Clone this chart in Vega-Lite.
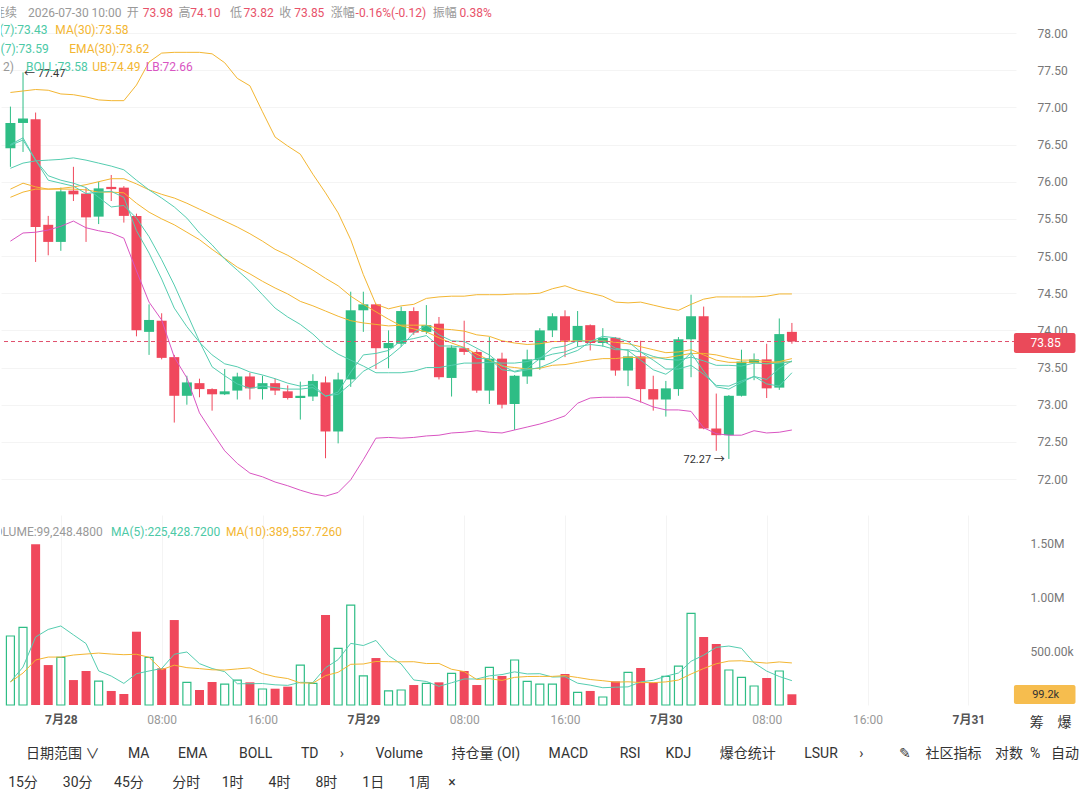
{
  "$schema": "https://vega.github.io/schema/vega-lite/v6.json",
  "padding": 0,
  "spacing": 0,
  "background": "white",
  "config": {
    "view": {"stroke": null},
    "font": "Roboto, 'Noto Sans CJK SC', sans-serif",
    "axis": {"domain": false, "ticks": false, "labelFont": "Roboto, 'Noto Sans CJK SC', sans-serif"}
  },
  "datasets": {
    "k": [
      {"t":"2026-07-27T20:00:00Z","o":76.45,"h":77.01,"l":76.20,"c":76.79,"v":639000,"ma7":76.49,"ema7":76.50,"ma30":75.90,"ema30":75.79,"boll":76.18,"ub":77.20,"lb":75.20,"vma5":213000,"vma10":213000},
      {"t":"2026-07-27T21:00:00Z","o":76.79,"h":77.47,"l":76.40,"c":76.85,"v":719000,"ma7":76.56,"ema7":76.59,"ma30":75.98,"ema30":75.86,"boll":76.25,"ub":77.22,"lb":75.31,"vma5":352000,"vma10":296000},
      {"t":"2026-07-27T22:00:00Z","o":76.84,"h":76.93,"l":74.92,"c":75.39,"v":1490000,"ma7":76.29,"ema7":76.29,"ma30":75.93,"ema30":75.90,"boll":76.28,"ub":77.24,"lb":75.32,"vma5":630000,"vma10":417000},
      {"t":"2026-07-27T23:00:00Z","o":75.42,"h":75.54,"l":75.01,"c":75.19,"v":370000,"ma7":76.08,"ema7":76.02,"ma30":75.90,"ema30":75.90,"boll":76.29,"ub":77.23,"lb":75.35,"vma5":700000,"vma10":444000},
      {"t":"2026-07-28T00:00:00Z","o":75.19,"h":75.92,"l":75.07,"c":75.87,"v":441000,"ma7":76.02,"ema7":75.98,"ma30":75.91,"ema30":75.90,"boll":76.30,"ub":77.18,"lb":75.40,"vma5":732000,"vma10":444000},
      {"t":"2026-07-28T01:00:00Z","o":75.88,"h":76.20,"l":75.74,"c":75.83,"v":231000,"ma7":75.98,"ema7":75.94,"ma30":75.93,"ema30":75.90,"boll":76.32,"ub":77.17,"lb":75.47,"vma5":650000,"vma10":463000},
      {"t":"2026-07-28T02:00:00Z","o":75.84,"h":75.92,"l":75.19,"c":75.52,"v":315000,"ma7":75.92,"ema7":75.84,"ma30":75.96,"ema30":75.89,"boll":76.29,"ub":77.14,"lb":75.38,"vma5":569000,"vma10":472000},
      {"t":"2026-07-28T03:00:00Z","o":75.53,"h":76.00,"l":75.43,"c":75.91,"v":222000,"ma7":75.79,"ema7":75.86,"ma30":76.00,"ema30":75.86,"boll":76.25,"ub":77.10,"lb":75.34,"vma5":316000,"vma10":481000},
      {"t":"2026-07-28T04:00:00Z","o":75.93,"h":76.09,"l":75.74,"c":75.90,"v":130000,"ma7":75.66,"ema7":75.87,"ma30":76.04,"ema30":75.86,"boll":76.21,"ub":77.09,"lb":75.31,"vma5":268000,"vma10":472000},
      {"t":"2026-07-28T05:00:00Z","o":75.92,"h":75.94,"l":75.45,"c":75.54,"v":102000,"ma7":75.68,"ema7":75.79,"ma30":76.04,"ema30":75.85,"boll":76.16,"ub":77.09,"lb":75.24,"vma5":200000,"vma10":466000},
      {"t":"2026-07-28T06:00:00Z","o":75.54,"h":75.57,"l":73.92,"c":74.00,"v":679000,"ma7":75.51,"ema7":75.34,"ma30":75.97,"ema30":75.71,"boll":76.02,"ub":77.30,"lb":74.80,"vma5":290000,"vma10":470000},
      {"t":"2026-07-28T07:00:00Z","o":73.98,"h":74.35,"l":73.67,"c":74.14,"v":441000,"ma7":75.26,"ema7":75.04,"ma30":75.89,"ema30":75.59,"boll":75.89,"ub":77.61,"lb":74.38,"vma5":315000,"vma10":442000},
      {"t":"2026-07-28T08:00:00Z","o":74.13,"h":74.23,"l":73.61,"c":73.63,"v":340000,"ma7":74.95,"ema7":74.69,"ma30":75.83,"ema30":75.50,"boll":75.78,"ub":77.73,"lb":74.14,"vma5":338000,"vma10":327000},
      {"t":"2026-07-28T09:00:00Z","o":73.64,"h":73.67,"l":72.76,"c":73.12,"v":787000,"ma7":74.61,"ema7":74.30,"ma30":75.78,"ema30":75.42,"boll":75.66,"ub":77.74,"lb":73.64,"vma5":470000,"vma10":369000},
      {"t":"2026-07-28T10:00:00Z","o":73.12,"h":73.39,"l":73.00,"c":73.30,"v":210000,"ma7":74.23,"ema7":74.05,"ma30":75.71,"ema30":75.32,"boll":75.51,"ub":77.74,"lb":73.36,"vma5":491000,"vma10":346000},
      {"t":"2026-07-28T11:00:00Z","o":73.29,"h":73.35,"l":73.10,"c":73.21,"v":139000,"ma7":73.85,"ema7":73.84,"ma30":75.63,"ema30":75.22,"boll":75.31,"ub":77.74,"lb":72.89,"vma5":383000,"vma10":337000},
      {"t":"2026-07-28T12:00:00Z","o":73.21,"h":73.22,"l":72.92,"c":73.14,"v":213000,"ma7":73.51,"ema7":73.67,"ma30":75.55,"ema30":75.09,"boll":75.15,"ub":77.72,"lb":72.63,"vma5":338000,"vma10":326000},
      {"t":"2026-07-28T13:00:00Z","o":73.14,"h":73.48,"l":73.13,"c":73.18,"v":194000,"ma7":73.39,"ema7":73.55,"ma30":75.47,"ema30":74.97,"boll":74.96,"ub":77.60,"lb":72.38,"vma5":309000,"vma10":324000},
      {"t":"2026-07-28T14:00:00Z","o":73.19,"h":73.43,"l":73.07,"c":73.38,"v":231000,"ma7":73.28,"ema7":73.51,"ma30":75.39,"ema30":74.85,"boll":74.81,"ub":77.39,"lb":72.21,"vma5":197000,"vma10":334000},
      {"t":"2026-07-28T15:00:00Z","o":73.38,"h":73.43,"l":73.07,"c":73.22,"v":210000,"ma7":73.22,"ema7":73.44,"ma30":75.30,"ema30":74.76,"boll":74.66,"ub":77.29,"lb":72.08,"vma5":197000,"vma10":344000},
      {"t":"2026-07-28T16:00:00Z","o":73.21,"h":73.39,"l":73.07,"c":73.29,"v":148000,"ma7":73.25,"ema7":73.40,"ma30":75.20,"ema30":74.66,"boll":74.48,"ub":76.94,"lb":72.03,"vma5":199000,"vma10":291000},
      {"t":"2026-07-28T17:00:00Z","o":73.29,"h":73.35,"l":73.13,"c":73.19,"v":151000,"ma7":73.23,"ema7":73.35,"ma30":75.09,"ema30":74.57,"boll":74.30,"ub":76.60,"lb":71.96,"vma5":187000,"vma10":262000},
      {"t":"2026-07-28T18:00:00Z","o":73.18,"h":73.26,"l":73.07,"c":73.09,"v":170000,"ma7":73.21,"ema7":73.29,"ma30":75.01,"ema30":74.49,"boll":74.18,"ub":76.48,"lb":71.91,"vma5":182000,"vma10":245000},
      {"t":"2026-07-28T19:00:00Z","o":73.09,"h":73.31,"l":72.80,"c":73.12,"v":370000,"ma7":73.21,"ema7":73.25,"ma30":74.91,"ema30":74.39,"boll":74.08,"ub":76.37,"lb":71.85,"vma5":210000,"vma10":204000},
      {"t":"2026-07-28T20:00:00Z","o":73.11,"h":73.41,"l":73.05,"c":73.32,"v":201000,"ma7":73.23,"ema7":73.27,"ma30":74.81,"ema30":74.33,"boll":73.95,"ub":76.10,"lb":71.80,"vma5":208000,"vma10":203000},
      {"t":"2026-07-28T21:00:00Z","o":73.30,"h":73.38,"l":72.28,"c":72.64,"v":833000,"ma7":73.12,"ema7":73.11,"ma30":74.70,"ema30":74.26,"boll":73.79,"ub":75.85,"lb":71.77,"vma5":345000,"vma10":272000},
      {"t":"2026-07-28T22:00:00Z","o":72.64,"h":73.43,"l":72.48,"c":73.34,"v":525000,"ma7":73.14,"ema7":73.17,"ma30":74.60,"ema30":74.19,"boll":73.68,"ub":75.58,"lb":71.82,"vma5":420000,"vma10":303000},
      {"t":"2026-07-28T23:00:00Z","o":73.34,"h":74.52,"l":73.24,"c":74.27,"v":926000,"ma7":73.28,"ema7":73.44,"ma30":74.46,"ema30":74.13,"boll":73.60,"ub":75.22,"lb":71.99,"vma5":571000,"vma10":377000},
      {"t":"2026-07-29T00:00:00Z","o":74.27,"h":74.52,"l":73.98,"c":74.35,"v":269000,"ma7":73.45,"ema7":73.67,"ma30":74.35,"ema30":74.10,"boll":73.52,"ub":74.75,"lb":72.26,"vma5":551000,"vma10":380000},
      {"t":"2026-07-29T01:00:00Z","o":74.35,"h":74.36,"l":73.48,"c":73.76,"v":435000,"ma7":73.54,"ema7":73.69,"ma30":74.25,"ema30":74.08,"boll":73.43,"ub":74.35,"lb":72.55,"vma5":598000,"vma10":403000},
      {"t":"2026-07-29T02:00:00Z","o":73.76,"h":74.00,"l":73.49,"c":73.83,"v":130000,"ma7":73.64,"ema7":73.73,"ma30":74.15,"ema30":74.06,"boll":73.43,"ub":74.29,"lb":72.56,"vma5":457000,"vma10":401000},
      {"t":"2026-07-29T03:00:00Z","o":73.82,"h":74.32,"l":73.78,"c":74.26,"v":139000,"ma7":73.78,"ema7":73.86,"ma30":74.06,"ema30":74.07,"boll":73.43,"ub":74.33,"lb":72.55,"vma5":380000,"vma10":400000},
      {"t":"2026-07-29T04:00:00Z","o":74.26,"h":74.31,"l":73.94,"c":73.97,"v":185000,"ma7":73.97,"ema7":73.89,"ma30":74.02,"ema30":74.07,"boll":73.45,"ub":74.35,"lb":72.56,"vma5":232000,"vma10":401000},
      {"t":"2026-07-29T05:00:00Z","o":73.98,"h":74.34,"l":73.95,"c":74.07,"v":201000,"ma7":74.07,"ema7":73.93,"ma30":73.98,"ema30":74.07,"boll":73.50,"ub":74.43,"lb":72.58,"vma5":218000,"vma10":384000},
      {"t":"2026-07-29T06:00:00Z","o":74.09,"h":74.18,"l":73.34,"c":73.37,"v":210000,"ma7":73.94,"ema7":73.79,"ma30":73.90,"ema30":74.02,"boll":73.50,"ub":74.45,"lb":72.59,"vma5":173000,"vma10":385000},
      {"t":"2026-07-29T07:00:00Z","o":73.36,"h":73.80,"l":73.11,"c":73.77,"v":293000,"ma7":73.86,"ema7":73.79,"ma30":73.83,"ema30":74.01,"boll":73.53,"ub":74.46,"lb":72.62,"vma5":206000,"vma10":331000},
      {"t":"2026-07-29T08:00:00Z","o":73.76,"h":74.13,"l":73.67,"c":73.71,"v":315000,"ma7":73.85,"ema7":73.77,"ma30":73.77,"ema30":73.99,"boll":73.56,"ub":74.46,"lb":72.63,"vma5":241000,"vma10":310000},
      {"t":"2026-07-29T09:00:00Z","o":73.71,"h":73.74,"l":73.16,"c":73.19,"v":185000,"ma7":73.76,"ema7":73.62,"ma30":73.68,"ema30":73.94,"boll":73.56,"ub":74.48,"lb":72.65,"vma5":241000,"vma10":236000},
      {"t":"2026-07-29T10:00:00Z","o":73.19,"h":73.91,"l":73.01,"c":73.62,"v":349000,"ma7":73.67,"ema7":73.62,"ma30":73.60,"ema30":73.92,"boll":73.57,"ub":74.48,"lb":72.63,"vma5":270000,"vma10":244000},
      {"t":"2026-07-29T11:00:00Z","o":73.62,"h":73.70,"l":72.95,"c":73.00,"v":269000,"ma7":73.53,"ema7":73.47,"ma30":73.52,"ema30":73.86,"boll":73.56,"ub":74.48,"lb":72.62,"vma5":282000,"vma10":228000},
      {"t":"2026-07-29T12:00:00Z","o":73.01,"h":73.40,"l":72.66,"c":73.39,"v":417000,"ma7":73.44,"ema7":73.45,"ma30":73.50,"ema30":73.83,"boll":73.56,"ub":74.49,"lb":72.66,"vma5":307000,"vma10":256000},
      {"t":"2026-07-29T13:00:00Z","o":73.38,"h":73.74,"l":73.28,"c":73.61,"v":219000,"ma7":73.47,"ema7":73.49,"ma30":73.48,"ema30":73.81,"boll":73.58,"ub":74.49,"lb":72.70,"vma5":288000,"vma10":264000},
      {"t":"2026-07-29T14:00:00Z","o":73.60,"h":74.03,"l":73.47,"c":74.00,"v":194000,"ma7":73.50,"ema7":73.62,"ma30":73.49,"ema30":73.82,"boll":73.63,"ub":74.50,"lb":72.74,"vma5":290000,"vma10":265000},
      {"t":"2026-07-29T15:00:00Z","o":74.00,"h":74.23,"l":73.91,"c":74.19,"v":194000,"ma7":73.57,"ema7":73.76,"ma30":73.53,"ema30":73.85,"boll":73.68,"ub":74.56,"lb":72.79,"vma5":259000,"vma10":265000},
      {"t":"2026-07-29T16:00:00Z","o":74.19,"h":74.27,"l":73.64,"c":73.86,"v":287000,"ma7":73.67,"ema7":73.79,"ma30":73.54,"ema30":73.85,"boll":73.71,"ub":74.60,"lb":72.85,"vma5":262000,"vma10":272000},
      {"t":"2026-07-29T17:00:00Z","o":73.86,"h":74.26,"l":73.78,"c":74.06,"v":117000,"ma7":73.73,"ema7":73.86,"ma30":73.57,"ema30":73.86,"boll":73.78,"ub":74.54,"lb":73.02,"vma5":202000,"vma10":255000},
      {"t":"2026-07-29T18:00:00Z","o":74.07,"h":74.08,"l":73.73,"c":73.83,"v":130000,"ma7":73.85,"ema7":73.85,"ma30":73.60,"ema30":73.86,"boll":73.81,"ub":74.50,"lb":73.09,"vma5":184000,"vma10":236000},
      {"t":"2026-07-29T19:00:00Z","o":73.83,"h":74.03,"l":73.78,"c":73.90,"v":74000,"ma7":73.92,"ema7":73.86,"ma30":73.62,"ema30":73.86,"boll":73.79,"ub":74.46,"lb":73.10,"vma5":160000,"vma10":225000},
      {"t":"2026-07-29T20:00:00Z","o":73.90,"h":73.91,"l":73.39,"c":73.46,"v":219000,"ma7":73.90,"ema7":73.76,"ma30":73.62,"ema30":73.84,"boll":73.74,"ub":74.38,"lb":73.10,"vma5":165000,"vma10":212000},
      {"t":"2026-07-29T21:00:00Z","o":73.46,"h":73.73,"l":73.25,"c":73.65,"v":302000,"ma7":73.85,"ema7":73.73,"ma30":73.64,"ema30":73.82,"boll":73.74,"ub":74.37,"lb":73.10,"vma5":168000,"vma10":215000},
      {"t":"2026-07-29T22:00:00Z","o":73.65,"h":73.86,"l":73.03,"c":73.21,"v":343000,"ma7":73.71,"ema7":73.60,"ma30":73.63,"ema30":73.78,"boll":73.71,"ub":74.38,"lb":73.04,"vma5":214000,"vma10":208000},
      {"t":"2026-07-29T23:00:00Z","o":73.21,"h":73.39,"l":72.92,"c":73.07,"v":207000,"ma7":73.60,"ema7":73.47,"ma30":73.63,"ema30":73.74,"boll":73.65,"ub":74.34,"lb":72.97,"vma5":229000,"vma10":207000},
      {"t":"2026-07-30T00:00:00Z","o":73.07,"h":73.32,"l":72.84,"c":73.22,"v":265000,"ma7":73.48,"ema7":73.41,"ma30":73.63,"ema30":73.70,"boll":73.61,"ub":74.30,"lb":72.93,"vma5":267000,"vma10":214000},
      {"t":"2026-07-30T01:00:00Z","o":73.21,"h":73.91,"l":73.12,"c":73.88,"v":361000,"ma7":73.48,"ema7":73.53,"ma30":73.66,"ema30":73.71,"boll":73.60,"ub":74.27,"lb":72.93,"vma5":296000,"vma10":231000},
      {"t":"2026-07-30T02:00:00Z","o":73.88,"h":74.48,"l":73.37,"c":74.19,"v":849000,"ma7":73.53,"ema7":73.70,"ma30":73.69,"ema30":73.74,"boll":73.64,"ub":74.35,"lb":72.91,"vma5":405000,"vma10":287000},
      {"t":"2026-07-30T03:00:00Z","o":74.19,"h":74.32,"l":72.67,"c":72.68,"v":630000,"ma7":73.41,"ema7":73.45,"ma30":73.69,"ema30":73.67,"boll":73.59,"ub":74.42,"lb":72.69,"vma5":462000,"vma10":338000},
      {"t":"2026-07-30T04:00:00Z","o":72.68,"h":73.15,"l":72.38,"c":72.59,"v":565000,"ma7":73.26,"ema7":73.24,"ma30":73.67,"ema30":73.60,"boll":73.53,"ub":74.45,"lb":72.61,"vma5":534000,"vma10":382000},
      {"t":"2026-07-30T05:00:00Z","o":72.59,"h":73.13,"l":72.27,"c":73.12,"v":324000,"ma7":73.25,"ema7":73.21,"ma30":73.63,"ema30":73.57,"boll":73.53,"ub":74.45,"lb":72.59,"vma5":546000,"vma10":407000},
      {"t":"2026-07-30T06:00:00Z","o":73.12,"h":73.74,"l":73.11,"c":73.58,"v":256000,"ma7":73.32,"ema7":73.30,"ma30":73.60,"ema30":73.57,"boll":73.52,"ub":74.45,"lb":72.59,"vma5":525000,"vma10":410000},
      {"t":"2026-07-30T07:00:00Z","o":73.56,"h":73.69,"l":73.33,"c":73.61,"v":176000,"ma7":73.38,"ema7":73.38,"ma30":73.60,"ema30":73.57,"boll":73.56,"ub":74.45,"lb":72.65,"vma5":390000,"vma10":398000},
      {"t":"2026-07-30T08:00:00Z","o":73.61,"h":73.82,"l":73.09,"c":73.22,"v":250000,"ma7":73.28,"ema7":73.34,"ma30":73.58,"ema30":73.55,"boll":73.55,"ub":74.46,"lb":72.62,"vma5":314000,"vma10":388000},
      {"t":"2026-07-30T09:00:00Z","o":73.23,"h":74.16,"l":73.20,"c":73.95,"v":315000,"ma7":73.25,"ema7":73.49,"ma30":73.57,"ema30":73.58,"boll":73.56,"ub":74.49,"lb":72.63,"vma5":264000,"vma10":399000},
      {"t":"2026-07-30T10:00:00Z","o":73.98,"h":74.10,"l":73.82,"c":73.85,"v":99248,"ma7":73.43,"ema7":73.59,"ma30":73.58,"ema30":73.62,"boll":73.58,"ub":74.49,"lb":72.66,"vma5":225429,"vma10":389558}
    ]
  },
  "vconcat": [
    {
      "width": 1015,
      "height": 515,
      "layer": [
        {
          "data": {"name": "k"},
          "encoding": {
            "x": {"field": "t", "type": "temporal", "axis": null,
              "scale": {"type": "utc", "domain": [{"year":2026,"month":7,"date":27,"hours":19,"minutes":39,"utc":true},{"year":2026,"month":7,"date":31,"hours":3,"minutes":23,"utc":true}]}}
          },
          "layer": [
            {
              "mark": {"type": "rule", "strokeWidth": 1},
              "encoding": {
                "y": {"field": "l", "type": "quantitative",
                  "scale": {"domain": [71.5165, 78.444], "zero": false, "nice": false},
                  "axis": {"orient": "right", "title": null, "values": [72,72.5,73,73.5,74,74.5,75,75.5,76,76.5,77,77.5,78], "format": ".2f", "labelColor": "#777", "labelFontSize": 12, "labelPadding": 21, "grid": true, "gridColor": "#f4f4f4"}},
                "y2": {"field": "h"},
                "color": {"condition": {"test": "datum.c >= datum.o", "value": "#2ebd85"}, "value": "#f0485c"}
              }
            },
            {
              "mark": {"type": "bar", "size": 10},
              "encoding": {
                "y": {"field": "o", "type": "quantitative"},
                "y2": {"field": "c"},
                "color": {"condition": {"test": "datum.c >= datum.o", "value": "#2ebd85"}, "value": "#f0485c"}
              }
            },
            {"mark": {"type": "line", "color": "#f3b632", "strokeWidth": 1}, "encoding": {"y": {"field": "ub", "type": "quantitative"}}},
            {"mark": {"type": "line", "color": "#d955c2", "strokeWidth": 1}, "encoding": {"y": {"field": "lb", "type": "quantitative"}}},
            {"mark": {"type": "line", "color": "#f3b632", "strokeWidth": 1}, "encoding": {"y": {"field": "ma30", "type": "quantitative"}}},
            {"mark": {"type": "line", "color": "#f3b632", "strokeWidth": 1}, "encoding": {"y": {"field": "ema30", "type": "quantitative"}}},
            {"mark": {"type": "line", "color": "#55cdb0", "strokeWidth": 1}, "encoding": {"y": {"field": "boll", "type": "quantitative"}}},
            {"mark": {"type": "line", "color": "#55cdb0", "strokeWidth": 1}, "encoding": {"y": {"field": "ema7", "type": "quantitative"}}},
            {"mark": {"type": "line", "color": "#55cdb0", "strokeWidth": 1}, "encoding": {"y": {"field": "ma7", "type": "quantitative"}}}
          ]
        },
        {"data": {"values": [{}]}, "mark": {"type": "rule", "color": "#e0506c", "strokeDash": [4, 3], "strokeWidth": 1}, "encoding": {"y": {"datum": 73.85}}},
        {"data": {"values": [{}]}, "mark": {"type": "rect", "color": "#ea4a5a", "cornerRadius": 2},
          "encoding": {"x": {"datum": {"year":2026,"month":7,"date":31,"hours":3,"minutes":37,"utc":true}}, "x2": {"datum": {"year":2026,"month":7,"date":31,"hours":8,"minutes":30,"utc":true}}, "y": {"datum": 73.965}, "y2": {"datum": 73.695}}},
        {"data": {"values": [{}]}, "mark": {"type": "text", "text": "73.85", "color": "white", "fontSize": 12, "align": "center", "baseline": "middle"},
          "encoding": {"x": {"datum": {"year":2026,"month":7,"date":31,"hours":6,"minutes":8,"utc":true}}, "y": {"datum": 73.83}}},
        {"data": {"values": [{}]}, "mark": {"type": "text", "text": "← 77.47", "color": "#333", "fontSize": 11, "align": "left", "baseline": "middle", "dx": 1},
          "encoding": {"x": {"datum": {"year":2026,"month":7,"date":27,"hours":21,"utc":true}}, "y": {"datum": 77.45}}},
        {"data": {"values": [{}]}, "mark": {"type": "text", "text": "72.27 →", "color": "#333", "fontSize": 11, "align": "right", "baseline": "middle", "dx": -4},
          "encoding": {"x": {"datum": {"year":2026,"month":7,"date":30,"hours":5,"utc":true}}, "y": {"datum": 72.255}}},
        {"data": {"values": [{}]}, "mark": {"type": "text", "text": "连续", "color": "#999", "fontSize": 12, "align": "right", "baseline": "middle", "clip": true},
          "encoding": {"x": {"datum": {"year":2026,"month":7,"date":27,"hours":20,"minutes":31,"utc":true}}, "y": {"datum": 78.273}}},
        {"data": {"values": [{}]}, "mark": {"type": "text", "text": "2026-07-30 10:00", "color": "#999", "fontSize": 12, "align": "left", "baseline": "middle"},
          "encoding": {"x": {"datum": {"year":2026,"month":7,"date":27,"hours":21,"minutes":24,"utc":true}}, "y": {"datum": 78.273}}},
        {"data": {"values": [{}]}, "mark": {"type": "text", "text": "开", "color": "#999", "fontSize": 12, "align": "left", "baseline": "middle"},
          "encoding": {"x": {"datum": {"year":2026,"month":7,"date":28,"hours":5,"minutes":14,"utc":true}}, "y": {"datum": 78.273}}},
        {"data": {"values": [{}]}, "mark": {"type": "text", "text": "73.98", "color": "#e8526a", "fontSize": 12, "align": "left", "baseline": "middle"},
          "encoding": {"x": {"datum": {"year":2026,"month":7,"date":28,"hours":6,"minutes":30,"utc":true}}, "y": {"datum": 78.273}}},
        {"data": {"values": [{}]}, "mark": {"type": "text", "text": "高", "color": "#999", "fontSize": 12, "align": "left", "baseline": "middle"},
          "encoding": {"x": {"datum": {"year":2026,"month":7,"date":28,"hours":9,"minutes":20,"utc":true}}, "y": {"datum": 78.273}}},
        {"data": {"values": [{}]}, "mark": {"type": "text", "text": "74.10", "color": "#e8526a", "fontSize": 12, "align": "left", "baseline": "middle"},
          "encoding": {"x": {"datum": {"year":2026,"month":7,"date":28,"hours":10,"minutes":16,"utc":true}}, "y": {"datum": 78.273}}},
        {"data": {"values": [{}]}, "mark": {"type": "text", "text": "低", "color": "#999", "fontSize": 12, "align": "left", "baseline": "middle"},
          "encoding": {"x": {"datum": {"year":2026,"month":7,"date":28,"hours":13,"minutes":25,"utc":true}}, "y": {"datum": 78.273}}},
        {"data": {"values": [{}]}, "mark": {"type": "text", "text": "73.82", "color": "#e8526a", "fontSize": 12, "align": "left", "baseline": "middle"},
          "encoding": {"x": {"datum": {"year":2026,"month":7,"date":28,"hours":14,"minutes":30,"utc":true}}, "y": {"datum": 78.273}}},
        {"data": {"values": [{}]}, "mark": {"type": "text", "text": "收", "color": "#999", "fontSize": 12, "align": "left", "baseline": "middle"},
          "encoding": {"x": {"datum": {"year":2026,"month":7,"date":28,"hours":17,"minutes":20,"utc":true}}, "y": {"datum": 78.273}}},
        {"data": {"values": [{}]}, "mark": {"type": "text", "text": "73.85", "color": "#e8526a", "fontSize": 12, "align": "left", "baseline": "middle"},
          "encoding": {"x": {"datum": {"year":2026,"month":7,"date":28,"hours":18,"minutes":31,"utc":true}}, "y": {"datum": 78.273}}},
        {"data": {"values": [{}]}, "mark": {"type": "text", "text": "涨幅", "color": "#999", "fontSize": 12, "align": "left", "baseline": "middle"},
          "encoding": {"x": {"datum": {"year":2026,"month":7,"date":28,"hours":21,"minutes":25,"utc":true}}, "y": {"datum": 78.273}}},
        {"data": {"values": [{}]}, "mark": {"type": "text", "text": "-0.16%(-0.12)", "color": "#e8526a", "fontSize": 12, "align": "left", "baseline": "middle"},
          "encoding": {"x": {"datum": {"year":2026,"month":7,"date":28,"hours":23,"minutes":23,"utc":true}}, "y": {"datum": 78.273}}},
        {"data": {"values": [{}]}, "mark": {"type": "text", "text": "振幅", "color": "#999", "fontSize": 12, "align": "left", "baseline": "middle"},
          "encoding": {"x": {"datum": {"year":2026,"month":7,"date":29,"hours":5,"minutes":31,"utc":true}}, "y": {"datum": 78.273}}},
        {"data": {"values": [{}]}, "mark": {"type": "text", "text": "0.38%", "color": "#e8526a", "fontSize": 12, "align": "left", "baseline": "middle"},
          "encoding": {"x": {"datum": {"year":2026,"month":7,"date":29,"hours":7,"minutes":38,"utc":true}}, "y": {"datum": 78.273}}},
        {"data": {"values": [{}]}, "mark": {"type": "text", "text": "MA(7):73.43", "color": "#4cc9a6", "fontSize": 12, "align": "right", "baseline": "middle", "clip": true},
          "encoding": {"x": {"datum": {"year":2026,"month":7,"date":27,"hours":22,"minutes":56,"utc":true}}, "y": {"datum": 78.04}}},
        {"data": {"values": [{}]}, "mark": {"type": "text", "text": "MA(30):73.58", "color": "#f3b632", "fontSize": 12, "align": "left", "baseline": "middle"},
          "encoding": {"x": {"datum": {"year":2026,"month":7,"date":27,"hours":23,"minutes":34,"utc":true}}, "y": {"datum": 78.04}}},
        {"data": {"values": [{}]}, "mark": {"type": "text", "text": "EMA(7):73.59", "color": "#4cc9a6", "fontSize": 12, "align": "right", "baseline": "middle", "clip": true},
          "encoding": {"x": {"datum": {"year":2026,"month":7,"date":27,"hours":23,"minutes":2,"utc":true}}, "y": {"datum": 77.785}}},
        {"data": {"values": [{}]}, "mark": {"type": "text", "text": "EMA(30):73.62", "color": "#f3b632", "fontSize": 12, "align": "left", "baseline": "middle"},
          "encoding": {"x": {"datum": {"year":2026,"month":7,"date":28,"hours":0,"minutes":40,"utc":true}}, "y": {"datum": 77.785}}},
        {"data": {"values": [{}]}, "mark": {"type": "text", "text": "BOLL(20, 2)", "color": "#999", "fontSize": 12, "align": "right", "baseline": "middle", "clip": true},
          "encoding": {"x": {"datum": {"year":2026,"month":7,"date":27,"hours":20,"minutes":17,"utc":true}}, "y": {"datum": 77.543}}},
        {"data": {"values": [{}]}, "mark": {"type": "text", "text": "BOLL:73.58", "color": "#4cc9a6", "fontSize": 12, "align": "left", "baseline": "middle"},
          "encoding": {"x": {"datum": {"year":2026,"month":7,"date":27,"hours":21,"minutes":14,"utc":true}}, "y": {"datum": 77.543}}},
        {"data": {"values": [{}]}, "mark": {"type": "text", "text": "UB:74.49", "color": "#f3b632", "fontSize": 12, "align": "left", "baseline": "middle"},
          "encoding": {"x": {"datum": {"year":2026,"month":7,"date":28,"hours":2,"minutes":29,"utc":true}}, "y": {"datum": 77.543}}},
        {"data": {"values": [{}]}, "mark": {"type": "text", "text": "LB:72.66", "color": "#d955c2", "fontSize": 12, "align": "left", "baseline": "middle"},
          "encoding": {"x": {"datum": {"year":2026,"month":7,"date":28,"hours":6,"minutes":44,"utc":true}}, "y": {"datum": 77.543}}}
      ]
    },
    {
      "width": 1015,
      "height": 190,
      "title": {
        "text": [
          "\u200b\u2003\u2002\u2005日期范围 ∨\u2003\u2003MA\u2003\u2003EMA\u2003\u2003\u2009BOLL\u2003\u2003TD\u2003\u2002›\u2003\u2003\u2009Volume\u2003\u2003持仓量 (OI)\u2003\u2003MACD\u2003\u2003\u2009RSI\u2003\u2002\u2005KDJ\u2003\u2003爆仓统计\u2003\u2003LSUR\u2003\u2002›\u2003\u2003\u2002✎\u2003社区指标\u2002\u2005\u2009对数\u2002%\u2002\u2005自动",
          "\u200b\u200215分\u2003\u2002\u200530分\u2003\u200245分\u2003\u2003分时\u2003\u20021时\u2003\u2002\u20054时\u2003\u2002\u20058时\u2003\u2002\u20051日\u2003\u2002\u20091周\u2003\u2005×"
        ],
        "orient": "bottom", "anchor": "start", "frame": "bounds",
        "fontSize": 14, "fontWeight": "normal", "color": "#333", "lineHeight": 29, "offset": 17,
        "font": "Roboto, 'Noto Sans CJK SC', sans-serif"
      },
      "layer": [
        {
          "data": {"name": "k"},
          "encoding": {
            "x": {"field": "t", "type": "temporal",
              "scale": {"type": "utc", "domain": [{"year":2026,"month":7,"date":27,"hours":19,"minutes":39,"utc":true},{"year":2026,"month":7,"date":31,"hours":3,"minutes":23,"utc":true}]},
              "axis": {"title": null, "values": [
                {"year":2026,"month":7,"date":28,"hours":0,"utc":true},{"year":2026,"month":7,"date":28,"hours":8,"utc":true},{"year":2026,"month":7,"date":28,"hours":16,"utc":true},
                {"year":2026,"month":7,"date":29,"hours":0,"utc":true},{"year":2026,"month":7,"date":29,"hours":8,"utc":true},{"year":2026,"month":7,"date":29,"hours":16,"utc":true},
                {"year":2026,"month":7,"date":30,"hours":0,"utc":true},{"year":2026,"month":7,"date":30,"hours":8,"utc":true},{"year":2026,"month":7,"date":30,"hours":16,"utc":true},
                {"year":2026,"month":7,"date":31,"hours":0,"utc":true}],
                "labelExpr": "utchours(datum.value) == 0 ? (utcmonth(datum.value) + 1) + '月' + utcdate(datum.value) : utcFormat(datum.value, '%H:%M')",
                "labelColor": {"condition": {"test": "utchours(datum.value) == 0", "value": "#555"}, "value": "#999"},
                "labelFontWeight": {"condition": {"test": "utchours(datum.value) == 0", "value": "bold"}, "value": "normal"},
                "labelFontSize": 12, "labelPadding": 9, "grid": true, "gridColor": "#f4f4f4", "labelFlush": false}}
          },
          "layer": [
            {
              "transform": [{"filter": "datum.c < datum.o"}],
              "mark": {"type": "bar", "size": 9, "color": "#f0485c"},
              "encoding": {"y": {"field": "v", "type": "quantitative",
                "scale": {"domain": [0, 1760000], "nice": false},
                "axis": {"orient": "right", "title": null, "values": [500000, 1000000, 1500000],
                  "labelExpr": "datum.value >= 1000000 ? format(datum.value / 1000000, '.2f') + 'M' : format(datum.value / 1000, '.2f') + 'k'",
                  "labelColor": "#777", "labelFontSize": 12, "labelPadding": 14, "grid": false}}}
            },
            {
              "transform": [{"filter": "datum.c >= datum.o"}],
              "mark": {"type": "bar", "size": 8, "filled": false, "color": "#2ebd85", "strokeWidth": 1.2},
              "encoding": {"y": {"field": "v", "type": "quantitative"}}
            },
            {"mark": {"type": "line", "color": "#55cdb0", "strokeWidth": 1}, "encoding": {"y": {"field": "vma5", "type": "quantitative"}}},
            {"mark": {"type": "line", "color": "#f3b632", "strokeWidth": 1}, "encoding": {"y": {"field": "vma10", "type": "quantitative"}}}
          ]
        },
        {"data": {"values": [{}]}, "mark": {"type": "rect", "color": "#f6bd4e", "cornerRadius": 2},
          "encoding": {"x": {"datum": {"year":2026,"month":7,"date":31,"hours":3,"minutes":37,"utc":true}}, "x2": {"datum": {"year":2026,"month":7,"date":31,"hours":8,"minutes":30,"utc":true}}, "y": {"datum": 185000}, "y2": {"datum": 9000}}},
        {"data": {"values": [{}]}, "mark": {"type": "text", "text": "99.2k", "color": "#333", "fontSize": 11, "align": "center", "baseline": "middle"},
          "encoding": {"x": {"datum": {"year":2026,"month":7,"date":31,"hours":6,"minutes":8,"utc":true}}, "y": {"datum": 97000}}},
        {"data": {"values": [{}]}, "mark": {"type": "text", "text": "筹", "color": "#333", "fontSize": 14, "align": "center", "baseline": "middle"},
          "encoding": {"x": {"datum": {"year":2026,"month":7,"date":31,"hours":5,"minutes":26,"utc":true}}, "y": {"datum": -170000}}},
        {"data": {"values": [{}]}, "mark": {"type": "text", "text": "爆", "color": "#333", "fontSize": 14, "align": "center", "baseline": "middle"},
          "encoding": {"x": {"datum": {"year":2026,"month":7,"date":31,"hours":7,"minutes":38,"utc":true}}, "y": {"datum": -170000}}},
        {"data": {"values": [{}]}, "mark": {"type": "text", "text": "VOLUME:99,248.4800", "color": "#999", "fontSize": 12, "align": "right", "baseline": "middle", "clip": true},
          "encoding": {"x": {"datum": {"year":2026,"month":7,"date":28,"hours":3,"minutes":20,"utc":true}}, "y": {"datum": 1602000}}},
        {"data": {"values": [{}]}, "mark": {"type": "text", "text": "MA(5):225,428.7200", "color": "#4cc9a6", "fontSize": 12, "align": "left", "baseline": "middle"},
          "encoding": {"x": {"datum": {"year":2026,"month":7,"date":28,"hours":3,"minutes":59,"utc":true}}, "y": {"datum": 1602000}}},
        {"data": {"values": [{}]}, "mark": {"type": "text", "text": "MA(10):389,557.7260", "color": "#f3b632", "fontSize": 12, "align": "left", "baseline": "middle"},
          "encoding": {"x": {"datum": {"year":2026,"month":7,"date":28,"hours":13,"minutes":6,"utc":true}}, "y": {"datum": 1602000}}}
      ]
    }
  ]
}
